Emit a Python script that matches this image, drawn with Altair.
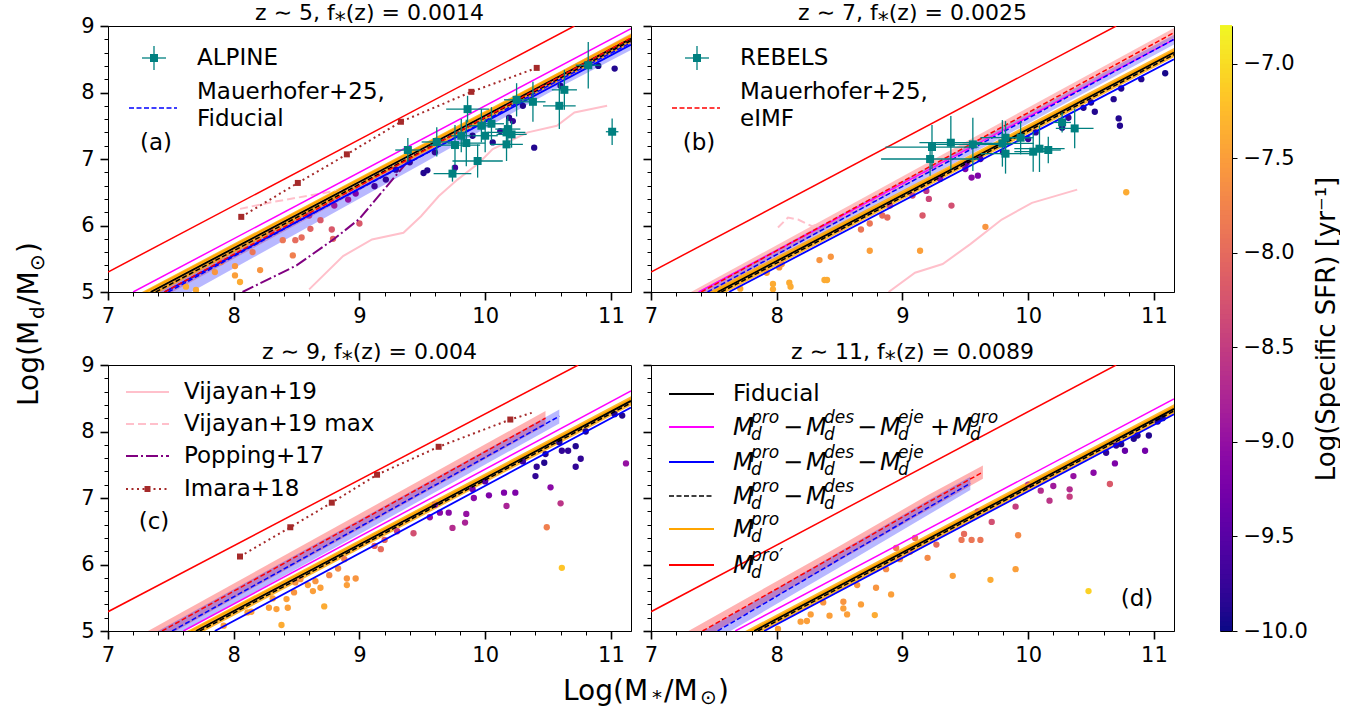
import altair as alt
import pandas as pd

FONT = "DejaVu Sans"
PW, PH = 523, 266
XDOM, YDOM, CDOM = [7.0, 11.16], [5.0, 9.0], [-10.0, -6.8]

RED, MAG, ORA, BLK, BLU = "#ff0000", "#ff00ff", "#ffa500", "#000000", "#0000ff"
TEAL, BROWN, PURPLE, PINK = "#008080", "#a52a2a", "#800080", "#ffc0cb"

TITLES = ["z ∼ 5, f⁎(z) = 0.0014", "z ∼ 7, f⁎(z) = 0.0025",
          "z ∼ 9, f⁎(z) = 0.004", "z ∼ 11, f⁎(z) = 0.0089"]
CB_TICKS = [-10.0, -9.5, -9.0, -8.5, -8.0, -7.5, -7.0]
CB_TITLE = "Log(Specific SFR) [yr⁻¹]"

# ---------------- panel (a) z~5 ----------------
A_RED = ([7.00, 10.71], [5.30, 9.00])
A_MAG = ([7.20, 11.16], [5.00, 8.96])
A_ORA = ([7.30, 11.16], [5.00, 8.85])
A_BLK = ([7.34, 11.16], [5.00, 8.81])
A_BDS = ([7.38, 11.16], [5.00, 8.78])
A_BLU = ([7.45, 11.16], [5.00, 8.72])
A_ORA_BAND = ([7.20, 11.16], [4.79, 8.74], [4.93, 8.88])
A_MF = ([7.48, 8.50, 9.50, 10.50, 11.16], [5.00, 6.05, 7.05, 8.10, 8.75])
A_MF_BAND = ([7.30, 8.50, 9.50, 10.50, 11.16], [4.62, 5.88, 6.93, 7.99, 8.64], [4.97, 6.14, 7.13, 8.18, 8.83])
A_ME = ([7.45, 11.16], [5.00, 8.82])
A_ME_BAND = ([7.30, 11.16], [4.78, 8.75], [4.93, 8.89])
A_VIJ = ([8.60, 8.87, 9.10, 9.35, 9.49, 9.63, 9.78, 9.95, 10.06, 10.34, 10.57, 10.71, 10.97],
         [5.04, 5.54, 5.79, 5.89, 6.14, 6.44, 6.69, 6.94, 7.15, 7.40, 7.50, 7.70, 7.80])
A_VIJMAX = ([8.05, 8.30, 8.60, 8.90, 9.50, 10.00, 10.50, 11.00],
            [6.25, 6.35, 6.45, 6.55, 7.15, 7.65, 8.15, 8.65])
A_POP = ([8.07, 8.50, 8.80, 9.00, 9.20, 9.40], [5.00, 5.40, 5.80, 6.10, 6.55, 7.00])
A_IMARA = ([8.06, 8.51, 8.90, 9.33, 9.89, 10.41], [6.13, 6.64, 7.07, 7.56, 8.01, 8.37])
A_PTS = [(7.62, 5.08, -7.4), (7.70, 5.03, -7.4), (7.85, 5.30, -7.6), (8.01, 5.39, -7.6), (8.01, 5.25, -7.5),
         (8.05, 5.15, -7.4), (8.21, 5.33, -7.6), (7.90, 5.45, -7.8), (8.15, 5.60, -7.9),
         (8.39, 5.78, -7.9), (8.47, 5.55, -7.8), (8.49, 5.78, -8.0), (8.54, 5.82, -8.0), (8.61, 5.95, -8.1),
         (8.69, 6.08, -8.2), (8.78, 5.94, -8.2), (8.79, 5.80, -8.1), (9.00, 6.03, -8.2), (8.30, 5.90, -8.2),
         (8.91, 6.39, -9.0), (8.97, 6.48, -9.2), (8.60, 6.15, -8.6), (8.80, 6.30, -8.9),
         (9.12, 6.59, -9.7), (9.21, 6.69, -9.8), (9.29, 6.84, -9.8), (9.40, 6.95, -9.8), (9.51, 6.79, -9.9),
         (9.54, 6.83, -9.9), (9.60, 7.10, -9.8), (9.76, 6.87, -9.7), (9.90, 7.35, -9.9), (10.06, 7.25, -9.9),
         (10.12, 7.42, -9.8), (10.19, 7.62, -9.9), (10.22, 7.57, -9.8), (10.30, 7.80, -9.9), (10.39, 7.17, -9.9),
         (10.60, 8.10, -9.9), (10.90, 8.40, -9.95), (11.03, 8.36, -9.9)]
ALP_X = [9.385, 9.615, 9.86, 9.81, 9.76, 9.74, 9.85, 9.94, 9.97, 10.00, 10.05,
         10.17, 10.17, 10.18, 10.21, 10.25, 10.38, 10.59, 10.63, 10.82, 11.01]
ALP_Y = [7.135, 7.256, 7.75, 7.35, 7.21, 6.78, 7.24, 6.97, 7.50, 7.35, 7.53,
         7.40, 7.22, 7.45, 7.37, 7.89, 7.86, 7.80, 8.04, 8.41, 7.41]
ALP_XE = [0.10, 0.12, 0.17, 0.08, 0.20, 0.15, 0.15, 0.20, 0.10, 0.10, 0.10,
          0.15, 0.13, 0.10, 0.12, 0.10, 0.10, 0.13, 0.10, 0.10, 0.05]
ALP_YE = [0.18, 0.22, 0.20, 0.25, 0.30, 0.12, 0.35, 0.25, 0.25, 0.25, 0.25,
          0.20, 0.25, 0.20, 0.20, 0.25, 0.30, 0.35, 0.30, 0.35, 0.20]

# ---------------- panel (b) z~7 ----------------
B_RED = ([7.00, 10.70], [5.30, 9.00])
B_MAG = ([7.38, 11.16], [5.00, 8.80])
B_ORA = ([7.50, 11.16], [5.00, 8.63])
B_BLK = ([7.53, 11.16], [5.00, 8.60])
B_BDS = ([7.56, 11.16], [5.00, 8.57])
B_BLU = ([7.62, 11.16], [5.00, 8.50])
B_ORA_BAND = ([7.40, 11.16], [4.80, 8.53], [4.94, 8.67])
B_MF = ([7.45, 11.16], [5.00, 8.80])
B_MF_BAND = ([7.30, 11.16], [4.78, 8.72], [4.93, 8.87])
B_ME = ([7.40, 11.16], [5.00, 8.90])
B_ME_BAND = ([7.25, 11.16], [4.77, 8.82], [4.93, 8.97])
B_VIJ = ([8.89, 9.10, 9.32, 9.54, 9.79, 10.03, 10.39], [5.00, 5.29, 5.42, 5.72, 6.09, 6.34, 6.54])
B_VIJMAX = ([8.01, 8.09, 8.17, 8.28, 8.50, 8.80, 9.20, 9.60, 10.00, 10.40],
            [5.97, 6.12, 6.09, 5.99, 6.12, 6.42, 6.82, 7.22, 7.62, 8.00])
B_PTS = [(7.71, 5.05, -7.4), (7.92, 5.29, -7.5), (7.97, 5.12, -7.4), (7.97, 5.04, -7.4), (8.02, 5.37, -7.6),
         (8.04, 5.42, -7.6), (8.10, 5.14, -7.4), (8.11, 5.08, -7.4), (8.34, 5.48, -7.6), (8.38, 5.18, -7.4),
         (8.40, 5.18, -7.4), (8.43, 5.53, -7.6), (8.74, 5.62, -7.5), (9.14, 5.62, -7.5), (9.66, 5.98, -7.6),
         (10.78, 6.50, -7.4),
         (8.50, 5.95, -7.8), (8.67, 5.94, -7.9), (8.74, 6.03, -7.9), (8.84, 6.15, -8.0), (8.88, 6.12, -8.0),
         (8.90, 6.30, -8.4), (9.08, 6.45, -8.4), (9.16, 6.15, -8.2), (9.19, 6.52, -8.6), (9.21, 6.40, -8.4),
         (9.39, 6.30, -8.3),
         (9.30, 6.70, -9.0), (9.50, 6.85, -9.2), (9.51, 6.94, -9.4), (9.55, 6.72, -9.1), (9.60, 6.75, -9.2),
         (9.62, 7.00, -9.6), (9.80, 7.10, -9.7),
         (10.00, 7.30, -9.8), (10.06, 7.40, -9.8), (10.27, 7.47, -9.9), (10.32, 7.62, -9.8), (10.44, 7.77, -9.9),
         (10.50, 7.85, -9.9), (10.53, 7.71, -9.9), (10.68, 7.90, -9.9), (10.72, 7.61, -9.9), (10.73, 7.50, -9.9),
         (10.74, 8.06, -9.9), (10.90, 8.20, -9.9), (11.09, 8.29, -9.95)]
REB_X = [9.235, 9.22, 9.385, 9.56, 9.795, 9.82, 9.82, 9.94, 10.04, 10.09, 10.16, 10.27, 10.37]
REB_Y = [7.18, 7.00, 7.245, 7.22, 7.235, 7.32, 7.08, 7.32, 7.11, 7.155, 7.135, 7.55, 7.46]
REB_XE = [0.37, 0.39, 0.25, 0.30, 0.25, 0.20, 0.20, 0.10, 0.15, 0.20, 0.10, 0.07, 0.15]
REB_YE = [0.33, 0.25, 0.40, 0.40, 0.35, 0.25, 0.30, 0.25, 0.30, 0.35, 0.20, 0.15, 0.30]

# ---------------- panel (c) z~9 ----------------
C_RED = ([7.00, 10.74], [5.29, 9.00])
C_MAG = ([7.60, 11.16], [5.00, 8.61])
C_ORA = ([7.66, 11.16], [5.00, 8.49])
C_BLK = ([7.70, 11.16], [5.00, 8.46])
C_BDS = ([7.73, 11.16], [5.00, 8.43])
C_BLU = ([7.85, 11.16], [5.00, 8.36])
C_ORA_BAND = ([7.55, 11.16], [4.78, 8.39], [4.92, 8.53])
C_MF = ([7.51, 10.59], [5.00, 8.23])
C_MF_BAND = ([7.35, 10.59], [4.73, 8.12], [4.95, 8.33])
C_ME = ([7.43, 10.48], [5.00, 8.20])
C_ME_BAND = ([7.28, 10.48], [4.73, 8.09], [4.96, 8.31])
C_IMARA_LINE = ([8.05, 8.45, 8.78, 9.14, 9.63, 10.20, 10.37], [6.12, 6.56, 6.93, 7.35, 7.77, 8.18, 8.28])
C_IMARA = ([8.05, 8.45, 8.78, 9.14, 9.63, 10.20], [6.12, 6.56, 6.93, 7.35, 7.77, 8.18])
C_PTS = [(7.92, 5.08, -7.5), (8.11, 5.28, -7.5), (8.14, 5.29, -7.5), (8.28, 5.35, -7.5), (8.31, 5.49, -7.5),
         (8.34, 5.33, -7.5), (8.38, 5.09, -7.4), (8.42, 5.48, -7.5), (8.43, 5.35, -7.5), (8.48, 5.58, -7.6),
         (8.49, 5.73, -7.6), (8.53, 5.78, -7.6), (8.59, 5.69, -7.5), (8.63, 5.60, -7.5), (8.65, 5.75, -7.6),
         (8.69, 5.65, -7.5), (8.72, 5.37, -7.4), (8.76, 5.84, -7.7), (8.83, 5.94, -7.7), (8.90, 5.79, -7.6),
         (8.90, 5.69, -7.5), (8.97, 5.79, -7.6), (8.88, 6.08, -7.8),
         (9.12, 6.28, -8.1), (9.17, 6.23, -8.0), (9.20, 6.37, -8.1), (9.43, 6.47, -8.3), (10.60, 6.92, -8.6),
         (10.49, 6.56, -7.8), (10.61, 5.95, -7.2),
         (9.56, 6.71, -9.0), (9.64, 6.78, -9.1), (9.71, 6.78, -9.1), (9.74, 6.55, -8.7), (9.84, 6.63, -8.8),
         (9.85, 6.76, -9.0), (9.90, 7.13, -9.3), (9.91, 7.00, -9.1), (10.03, 7.04, -9.2), (10.15, 7.08, -9.2),
         (10.17, 6.88, -8.8), (10.24, 7.08, -9.2), (10.52, 7.16, -9.1), (11.12, 7.52, -9.0),
         (10.40, 7.33, -9.8), (10.41, 7.47, -9.8), (10.47, 7.53, -9.9), (10.48, 7.66, -9.9), (10.59, 7.84, -9.9),
         (10.61, 7.71, -9.8), (10.66, 7.71, -9.8), (10.72, 7.78, -9.9), (10.72, 7.47, -9.8), (10.76, 7.59, -9.8),
         (11.03, 8.26, -9.9), (11.09, 8.24, -9.9),
         (9.30, 6.50, -8.5), (9.60, 6.90, -9.2), (10.00, 7.25, -9.5), (10.30, 7.55, -9.7), (10.80, 8.00, -9.9)]

# ---------------- panel (d) z~11 ----------------
D_RED = ([7.00, 10.70], [5.29, 9.00])
D_MAG = ([7.67, 11.16], [5.00, 8.49])
D_ORA = ([7.79, 11.16], [5.00, 8.37])
D_BLK = ([7.82, 11.16], [5.00, 8.34])
D_BDS = ([7.85, 11.16], [5.00, 8.31])
D_BLU = ([7.90, 11.16], [5.00, 8.26])
D_ORA_BAND = ([7.70, 11.16], [4.81, 8.27], [4.95, 8.41])
D_MF = ([7.53, 8.50, 9.20, 9.54], [5.00, 6.08, 6.85, 7.22])
D_MF_BAND = ([7.38, 8.50, 9.20, 9.54], [4.72, 5.96, 6.74, 7.12], [4.96, 6.19, 6.96, 7.32])
D_ME = ([7.41, 8.50, 9.20, 9.64], [5.00, 6.17, 6.93, 7.39])
D_ME_BAND = ([7.26, 8.50, 9.20, 9.64], [4.72, 6.06, 6.82, 7.29], [4.96, 6.28, 7.04, 7.49])
D_PTS = [(8.01, 5.03, -7.5), (8.19, 5.14, -7.5), (8.24, 5.15, -7.5), (8.27, 5.25, -7.5), (8.37, 5.43, -7.6),
         (8.42, 5.23, -7.5), (8.53, 5.34, -7.5), (8.53, 5.44, -7.6), (8.56, 5.25, -7.5), (8.64, 5.69, -7.6),
         (8.67, 5.40, -7.5), (8.78, 5.24, -7.4), (8.79, 5.65, -7.6), (8.87, 5.93, -7.7), (8.91, 5.55, -7.5),
         (8.98, 6.08, -7.7), (9.06, 6.19, -7.7), (9.20, 6.10, -7.7), (9.40, 5.83, -7.5), (9.47, 6.37, -7.9),
         (9.55, 6.37, -7.9), (9.62, 6.37, -7.9), (9.70, 5.77, -7.4), (9.90, 5.93, -7.5), (9.92, 6.44, -7.7),
         (10.48, 5.60, -7.1),
         (9.27, 6.30, -8.0), (9.49, 6.46, -8.0), (9.71, 6.64, -8.3), (9.90, 6.87, -8.5), (10.10, 7.11, -8.7),
         (10.17, 6.96, -8.6), (10.33, 7.02, -8.5), (10.33, 7.13, -8.7), (10.65, 7.21, -8.2),
         (10.20, 7.18, -8.9), (10.36, 7.33, -9.0), (10.52, 7.38, -9.1), (10.69, 7.52, -9.2), (10.77, 7.71, -9.4),
         (10.93, 7.71, -9.3),
         (10.62, 7.68, -9.8), (10.70, 7.79, -9.8), (10.74, 7.81, -9.9), (10.84, 7.89, -9.9), (10.87, 7.94, -9.9),
         (10.96, 7.94, -9.9), (11.03, 8.15, -9.9), (11.07, 8.20, -9.95),
         (8.95, 6.25, -7.8), (9.10, 6.40, -7.9), (9.60, 6.80, -8.2), (10.00, 7.20, -8.6)]

# colour-bar ramp (visual gradient of the sSFR scale)
CB_STEP = 0.025
CB_VALS = [round(-10.0 + CB_STEP * i, 4) for i in range(128)]

# ======================= helpers =======================
MAJ = "abs(datum.value - round(datum.value)) < 0.000001"
XV = [round(7 + 0.2 * i, 1) for i in range(21)]
YV = [round(5 + 0.2 * i, 1) for i in range(21)]
LFS = 23  # legend font size


def make_axis(values, labels, pad):
    kw = dict(values=values, title=None, grid=False, domainColor="black", domainWidth=1,
              tickColor="black",
              tickSize={"condition": {"test": MAJ, "value": 8}, "value": 4},
              tickWidth={"condition": {"test": MAJ, "value": 1.6}, "value": 1.0},
              labelOverlap=False, labelFlush=False)
    if labels:
        kw.update(labelExpr=f"({MAJ}) ? format(datum.value, 'd') : ''", labelFont=FONT,
                  labelFontSize=21, labelColor="black", labelPadding=pad)
    else:
        kw.update(labels=False)
    return alt.Axis(**kw)


XAX = make_axis(XV, True, 5)
YAX_L = make_axis(YV, True, 6)
YAX_R = make_axis(YV, False, 6)
XS = alt.Scale(domain=XDOM, nice=False, zero=False)
YS = alt.Scale(domain=YDOM, nice=False, zero=False)
CS = alt.Scale(scheme="plasma", domain=CDOM)
ONE = pd.DataFrame({"k": [0]})


def X(f="x"):
    return alt.X(f"{f}:Q", scale=XS, axis=XAX)


def Y(yl, f="y"):
    return alt.Y(f"{f}:Q", scale=YS, axis=YAX_L if yl else YAX_R)


def line(s, color, yl, width=1.5, dash=None, opacity=1.0):
    df = pd.DataFrame({"x": s[0], "y": s[1]})
    mk = dict(color=color, strokeWidth=width, opacity=opacity, clip=True)
    if dash:
        mk["strokeDash"] = dash
    return alt.Chart(df).mark_line(**mk).encode(x=X(), y=Y(yl))


def band(s, color, opacity, yl):
    df = pd.DataFrame({"x": s[0], "lo": s[1], "hi": s[2]})
    return alt.Chart(df).mark_area(color=color, opacity=opacity, clip=True).encode(
        x=X(), y=Y(yl, "lo"), y2="hi:Q")


def squares(s, color, size, yl):
    df = pd.DataFrame({"x": s[0], "y": s[1]})
    return alt.Chart(df).mark_square(color=color, size=size, opacity=1, clip=True).encode(x=X(), y=Y(yl))


def scatter(pts, yl):
    df = pd.DataFrame(pts, columns=["x", "y", "s"])
    return alt.Chart(df).mark_circle(size=40, opacity=1, clip=True).encode(
        x=X(), y=Y(yl), color=alt.Color("s:Q", scale=CS, legend=None))


def obs(xs, ys, xe, ye, yl):
    df = pd.DataFrame({"x": xs, "y": ys, "xe": xe, "ye": ye})
    base = alt.Chart(df).transform_calculate(
        xlo="datum.x - datum.xe", xhi="datum.x + datum.xe",
        ylo="datum.y - datum.ye", yhi="datum.y + datum.ye")
    h = base.mark_rule(color=TEAL, strokeWidth=1.3, clip=True).encode(x=X("xlo"), x2="xhi:Q", y=Y(yl))
    v = base.mark_rule(color=TEAL, strokeWidth=1.3, clip=True).encode(x=X(), y=Y(yl, "ylo"), y2="yhi:Q")
    p = base.mark_square(color=TEAL, size=64, opacity=1, clip=True).encode(x=X(), y=Y(yl))
    return [h, v, p]


def txt(t, px, py, size=LFS, style="normal", baseline="middle", align="left", angle=0, color="black"):
    mk = dict(text=t, font=FONT, fontSize=size, fontStyle=style, baseline=baseline,
              align=align, color=color)
    if angle:
        mk["angle"] = angle
    return alt.Chart(ONE).mark_text(**mk).encode(x=alt.value(px), y=alt.value(py))


def hrule(x1, x2, py, color, width=1.5, dash=None):
    mk = dict(color=color, strokeWidth=width)
    if dash:
        mk["strokeDash"] = dash
    return alt.Chart(ONE).mark_rule(**mk).encode(x=alt.value(x1), x2=alt.value(x2), y=alt.value(py))


def vrule(px, y1, y2, color, width=1.3):
    return alt.Chart(ONE).mark_rule(color=color, strokeWidth=width).encode(
        x=alt.value(px), y=alt.value(y1), y2=alt.value(y2))


def lsquare(px, py, color, size):
    return alt.Chart(ONE).mark_square(color=color, size=size, opacity=1).encode(
        x=alt.value(px), y=alt.value(py))


def mterm(x0, ly, sup):
    return [txt("M", x0, ly + 8, 24, "italic", "alphabetic"),
            txt(sup, x0 + 18, ly - 4, 17, "italic", "alphabetic"),
            txt("d", x0 + 18, ly + 13, 17, "italic", "alphabetic")]


def op(sym, x0, ly):
    return txt(sym, x0, ly + 8, 24, "normal", "alphabetic")


def models(red, mag, ora, blk, bds, blu, yl):
    return [line(red, RED, yl, 1.5), line(mag, MAG, yl, 1.5), line(ora, ORA, yl, 1.5),
            line(blk, BLK, yl, 1.8), line(bds, BLK, yl, 1.5, [5, 2.5]), line(blu, BLU, yl, 1.8)]


def ptitle(t, color="black"):
    # panel title drawn just above the plot area
    return txt(t, PW / 2, -6, 22, "normal", "alphabetic", "center", color=color)


# ======================= panels =======================
def obs_legend(label, dash_color, l1, l2, tag):
    return [hrule(34, 58, 32, TEAL, 1.3), vrule(46, 20, 44, TEAL), lsquare(46, 32, TEAL, 64),
            txt(label, 89, 32), hrule(21, 69, 82, dash_color, 1.5, [5, 2.5]),
            txt(l1, 89, 66), txt(l2, 89, 93), txt(tag, 48, 117, align="center")]


la = [band(A_ME_BAND, RED, 0.25, True), band(A_MF_BAND, BLU, 0.28, True), band(A_ORA_BAND, ORA, 0.8, True),
      scatter(A_PTS, True),
      line(A_VIJ, PINK, True, 2), line(A_VIJMAX, PINK, True, 2, [8, 4]),
      line(A_POP, PURPLE, True, 2, [12, 3, 2, 3]), line(A_IMARA, BROWN, True, 2, [2, 3.5]),
      squares(A_IMARA, BROWN, 36, True)]
la += models(A_RED, A_MAG, A_ORA, A_BLK, A_BDS, A_BLU, True)
la += [line(A_ME, RED, True, 1.5, [5, 2.5]), line(A_MF, BLU, True, 1.5, [5, 2.5])]
la += obs(ALP_X, ALP_Y, ALP_XE, ALP_YE, True)
la += obs_legend("ALPINE", BLU, "Mauerhofer+25,", "Fiducial", "(a)")
la += [ptitle(TITLES[0])]
pa = alt.layer(*la).properties(width=PW, height=PH)

lb = [band(B_ME_BAND, RED, 0.25, False), band(B_MF_BAND, BLU, 0.25, False), band(B_ORA_BAND, ORA, 0.8, False),
      scatter(B_PTS, False),
      line(B_VIJ, PINK, False, 2), line(B_VIJMAX, PINK, False, 2, [8, 4])]
lb += models(B_RED, B_MAG, B_ORA, B_BLK, B_BDS, B_BLU, False)
lb += [line(B_ME, RED, False, 1.5, [5, 2.5]), line(B_MF, BLU, False, 1.5, [5, 2.5])]
lb += obs(REB_X, REB_Y, REB_XE, REB_YE, False)
lb += obs_legend("REBELS", RED, "Mauerhofer+25,", "eIMF", "(b)")
lb += [ptitle(TITLES[1])]
pb = alt.layer(*lb).properties(width=PW, height=PH)

lc = [band(C_ME_BAND, RED, 0.3, True), band(C_MF_BAND, BLU, 0.28, True), band(C_ORA_BAND, ORA, 0.8, True),
      scatter(C_PTS, True),
      line(C_IMARA_LINE, BROWN, True, 2, [2, 3.5]), squares(C_IMARA, BROWN, 36, True)]
lc += models(C_RED, C_MAG, C_ORA, C_BLK, C_BDS, C_BLU, True)
lc += [line(C_ME, RED, True, 1.5, [5, 2.5]), line(C_MF, BLU, True, 1.5, [5, 2.5])]
lc += [hrule(18, 61, 27, PINK, 2), txt("Vijayan+19", 76, 27),
       hrule(18, 61, 59, PINK, 2, [8, 4]), txt("Vijayan+19 max", 76, 59),
       hrule(18, 61, 91, PURPLE, 2, [12, 3, 2, 3]), txt("Popping+17", 76, 91),
       hrule(18, 61, 124, BROWN, 2, [2, 3.5]), lsquare(39.5, 124, BROWN, 36), txt("Imara+18", 76, 124),
       txt("(c)", 46, 157, align="center")]
lc += [ptitle(TITLES[2])]
pc = alt.layer(*lc).properties(width=PW, height=PH)

ld = [band(D_ME_BAND, RED, 0.3, False), band(D_MF_BAND, BLU, 0.28, False), band(D_ORA_BAND, ORA, 0.8, False),
      scatter(D_PTS, False)]
ld += models(D_RED, D_MAG, D_ORA, D_BLK, D_BDS, D_BLU, False)
ld += [line(D_ME, RED, False, 1.5, [5, 2.5]), line(D_MF, BLU, False, 1.5, [5, 2.5])]
LY = [29, 62, 97, 131, 164, 200]
ld += [hrule(18, 63, LY[0], BLK, 1.8), txt("Fiducial", 82, LY[0])]
ld += [hrule(18, 63, LY[1], MAG, 1.8)] + mterm(82, LY[1], "pro") + [op("−", 132, LY[1])] + \
      mterm(155, LY[1], "des") + [op("−", 206, LY[1])] + mterm(229, LY[1], "eje") + \
      [op("+", 279, LY[1])] + mterm(301, LY[1], "gro")
ld += [hrule(18, 63, LY[2], BLU, 1.8)] + mterm(82, LY[2], "pro") + [op("−", 132, LY[2])] + \
      mterm(155, LY[2], "des") + [op("−", 206, LY[2])] + mterm(229, LY[2], "eje")
ld += [hrule(18, 63, LY[3], BLK, 1.5, [5, 2.5])] + mterm(82, LY[3], "pro") + [op("−", 132, LY[3])] + \
      mterm(155, LY[3], "des")
ld += [hrule(18, 63, LY[4], ORA, 1.8)] + mterm(82, LY[4], "pro")
ld += [hrule(18, 63, LY[5], RED, 1.8)] + mterm(82, LY[5], "pro′")
ld += [txt("(d)", 486, 234, align="center")]
ld += [ptitle(TITLES[3])]
pd_ = alt.layer(*ld).properties(width=PW, height=PH)

# ======================= colour bar =======================
cbdf = pd.DataFrame({"v": CB_VALS, "v2": [round(v + 1.2 * CB_STEP, 4) for v in CB_VALS]})
cbar_rect = alt.Chart(cbdf).mark_rect().encode(
    y=alt.Y("v:Q", scale=alt.Scale(domain=CDOM, nice=False, zero=False),
            axis=alt.Axis(orient="right", values=CB_TICKS, format=".1f", title=CB_TITLE,
                          titleFont=FONT, titleFontSize=26, titleFontWeight="normal", titleColor="black",
                          titleAngle=270, titleBaseline="top", titlePadding=6,
                          labelFont=FONT, labelFontSize=21, labelColor="black", labelPadding=6,
                          tickSize=5, tickColor="black", domain=False, grid=False)),
    y2="v2:Q",
    color=alt.Color("v:Q", scale=CS, legend=None),
)
# invisible spacer text so the colour bar starts level with the panels
cbar = alt.layer(cbar_rect, txt(".", 6, -6, 22, "normal", "alphabetic", "center", color="white")
                 ).properties(width=12, height=605)

# ======================= axis titles =======================
NOVIEW = alt.ViewBackground(strokeOpacity=0)
ytl = alt.layer(
    txt("Log(M", 38, 380, 28, baseline="alphabetic", angle=270),
    txt("d", 44, 293, 20, baseline="alphabetic", angle=270),
    txt("/M", 38, 279, 28, baseline="alphabetic", angle=270),
    txt("⊙", 44, 245, 20, baseline="alphabetic", angle=270),
    txt(")", 38, 227, 28, baseline="alphabetic", angle=270),
).properties(width=50, height=630, view=NOVIEW)

xtl = alt.layer(
    txt("Log(M", 563, 34, 28, baseline="alphabetic"),
    txt("*", 652, 38, 20, baseline="alphabetic"),
    txt("/M", 664, 34, 28, baseline="alphabetic"),
    txt("⊙", 700, 38, 20, baseline="alphabetic"),
    txt(")", 718, 34, 28, baseline="alphabetic"),
).properties(width=1100, height=40, view=NOVIEW)

row1 = alt.hconcat(pa, pb, spacing=9)
row2 = alt.hconcat(pc, pd_, spacing=9)
grid = alt.vconcat(row1, row2, spacing=13)
right = alt.hconcat(grid, cbar, spacing=44)
top = alt.hconcat(ytl, right, spacing=30)
chart = alt.vconcat(top, xtl, spacing=0).properties(
    padding={"left": 0, "top": 1, "right": 0, "bottom": 0}).configure_view(stroke="black", strokeWidth=1)

chart.save("out.html", embed_options={"renderer": "svg", "actions": False})
